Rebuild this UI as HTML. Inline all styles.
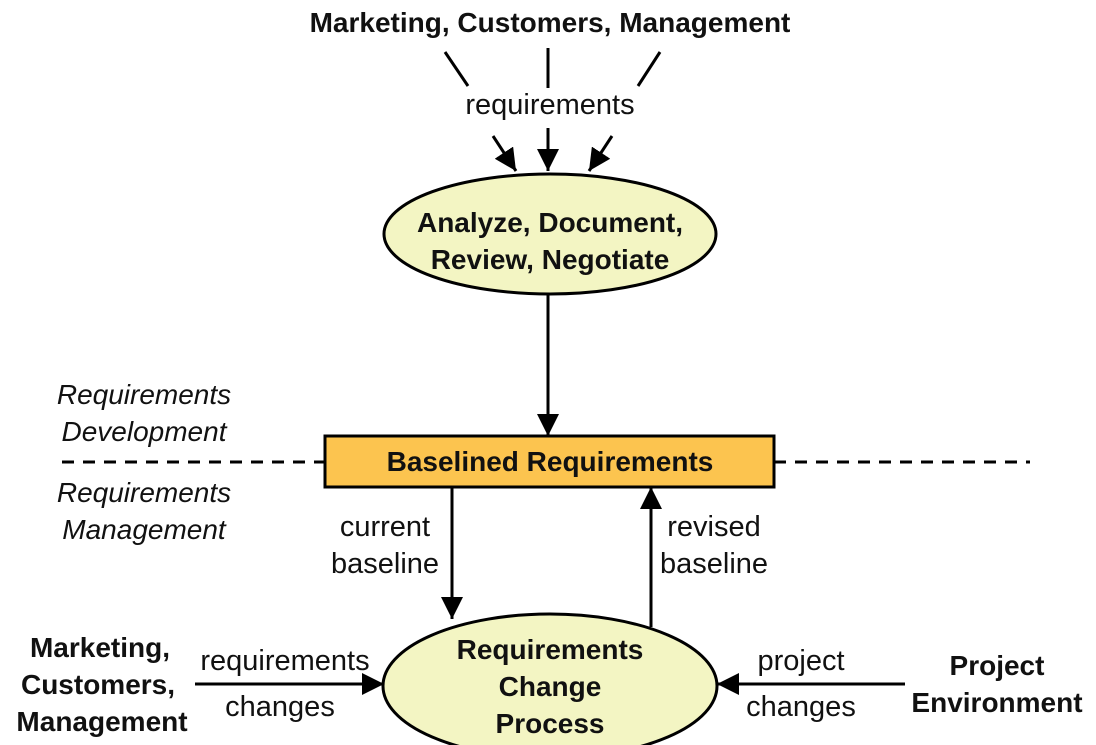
<!DOCTYPE html>
<html><head><meta charset="utf-8"><style>
body{margin:0;background:#fff;}
svg{display:block;font-family:"Liberation Sans",sans-serif;}
</style></head><body>
<svg width="1096" height="745" viewBox="0 0 1096 745">
<defs>
<marker id="b" viewBox="0 0 10 10" refX="10" refY="5" markerWidth="22" markerHeight="22" markerUnits="userSpaceOnUse" orient="auto"><path d="M0,0L10,5L0,10z" fill="#000"/></marker>
</defs>
<g stroke="#000" stroke-width="3" fill="none">
<line x1="445" y1="52" x2="468" y2="86"/>
<line x1="493" y1="136" x2="516" y2="171" marker-end="url(#b)"/>
<line x1="548" y1="48" x2="548" y2="88"/>
<line x1="548" y1="128" x2="548" y2="171" marker-end="url(#b)"/>
<line x1="660" y1="52" x2="638" y2="86"/>
<line x1="612" y1="136" x2="589" y2="171" marker-end="url(#b)"/>
<line x1="548" y1="295" x2="548" y2="436" marker-end="url(#b)"/>
<line x1="452" y1="487" x2="452" y2="619" marker-end="url(#b)"/>
<line x1="651" y1="627" x2="651" y2="487" marker-end="url(#b)"/>
<line x1="195" y1="684" x2="384" y2="684" marker-end="url(#b)"/>
<line x1="905" y1="684" x2="717" y2="684" marker-end="url(#b)"/>
<line x1="62" y1="462" x2="325" y2="462" stroke-dasharray="12,9"/>
<line x1="774" y1="462" x2="1030" y2="462" stroke-dasharray="12,9"/>
</g>
<ellipse cx="550" cy="234" rx="166" ry="60" fill="#f3f5c3" stroke="#000" stroke-width="3"/>
<ellipse cx="550" cy="686" rx="167" ry="72" fill="#f3f5c3" stroke="#000" stroke-width="3"/>
<rect x="325" y="436" width="449" height="51" fill="#fcc44f" stroke="#000" stroke-width="3"/>
<g font-size="28" fill="#111" text-anchor="middle" font-weight="bold">
<text x="550" y="32">Marketing, Customers, Management</text>
<text x="550" y="232">Analyze, Document,</text>
<text x="550" y="269">Review, Negotiate</text>
<text x="550" y="471">Baselined Requirements</text>
<text x="550" y="659">Requirements</text>
<text x="550" y="696">Change</text>
<text x="550" y="733">Process</text>
<text x="100" y="657">Marketing,</text>
<text x="98" y="694">Customers,</text>
<text x="102" y="731">Management</text>
<text x="997" y="675">Project</text>
<text x="997" y="712">Environment</text>
</g>
<g font-size="29" fill="#111" text-anchor="middle">
<text x="550" y="114">requirements</text>
<text x="385" y="536">current</text>
<text x="385" y="573">baseline</text>
<text x="714" y="536">revised</text>
<text x="714" y="573">baseline</text>
<text x="285" y="670">requirements</text>
<text x="280" y="716">changes</text>
<text x="801" y="670">project</text>
<text x="801" y="716">changes</text>
</g>
<g font-size="28" fill="#111" font-style="italic" text-anchor="middle">
<text x="144" y="404">Requirements</text>
<text x="144" y="441">Development</text>
<text x="144" y="502">Requirements</text>
<text x="144" y="539">Management</text>
</g>
</svg>
</body></html>
